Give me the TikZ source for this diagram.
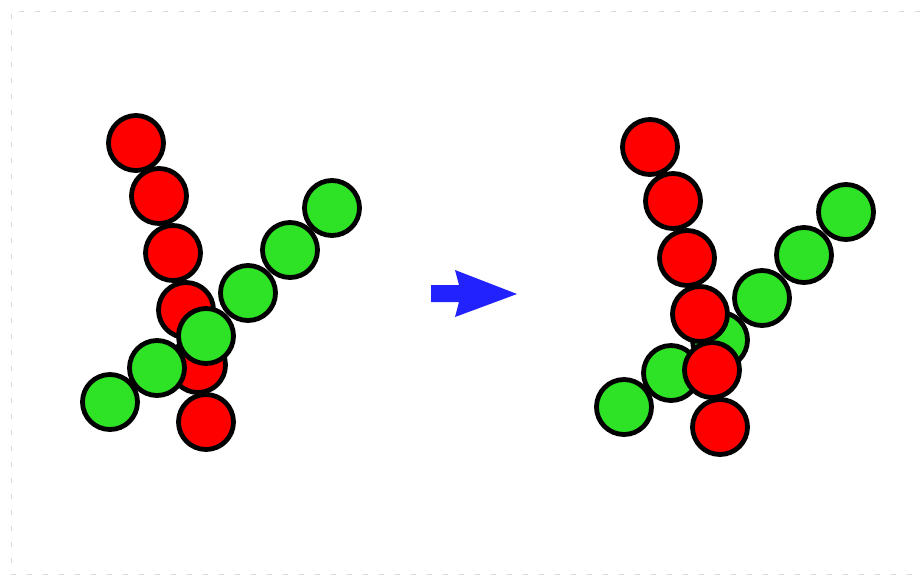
\documentclass[tikz,border=0pt]{standalone}
\definecolor{ballred}{RGB}{255,0,0}
\definecolor{ballgreen}{RGB}{46,226,38}
\definecolor{arrowblue}{RGB}{34,34,255}
\tikzset{
  ball/.style={circle,draw=black,line width=4.8pt*0.75,minimum size=55pt*0.75,inner sep=0pt},
  redball/.style={ball,fill=ballred},
  greenball/.style={ball,fill=ballgreen},
  frame/.style={gray!30,dash pattern=on 4pt off 8pt,line width=0.6pt}
}
\begin{document}
\begin{tikzpicture}[x=0.75pt,y=-0.75pt]
    \useasboundingbox(0,0)rectangle(920,576);
    \draw[frame](920,11)--(11,11)--(11,574)--(920,574);
    % before
    \node[redball](a1)at(136,143){};
    \node[redball](a2)at(159,196){};
    \node[redball](a3)at(173,253){};
    \node[redball](a4)at(186,310){};
    \node[redball](a5)at(198,365){};
    \node[redball](a6)at(206,422){};
    \node[greenball](b1)at(110,402){};
    \node[greenball](b2)at(157,368){};
    \node[greenball](b3)at(206,336){};
    \node[greenball](b4)at(248,293){};
    \node[greenball](b5)at(290,250){};
    \node[greenball](b6)at(332,208){};
    % arrow
    \fill[arrowblue](431,285)--(459,285)--(455,270)--(517,294)--(455,317)--(459,302)--(431,302)--cycle;
    % after
    \node[greenball](d1)at(624,407){};
    \node[greenball](d2)at(671,373){};
    \node[greenball](d3)at(720,340){};
    \node[greenball](d4)at(762,298){};
    \node[greenball](d5)at(804,255){};
    \node[greenball](d6)at(846,212){};
    \node[redball](c1)at(650,147){};
    \node[redball](c2)at(673,201){};
    \node[redball](c3)at(687,258){};
    \node[redball](c4)at(700,314){};
    \node[redball](c5)at(712,370){};
    \node[redball](c6)at(720,427){};
\end{tikzpicture}
\end{document}
